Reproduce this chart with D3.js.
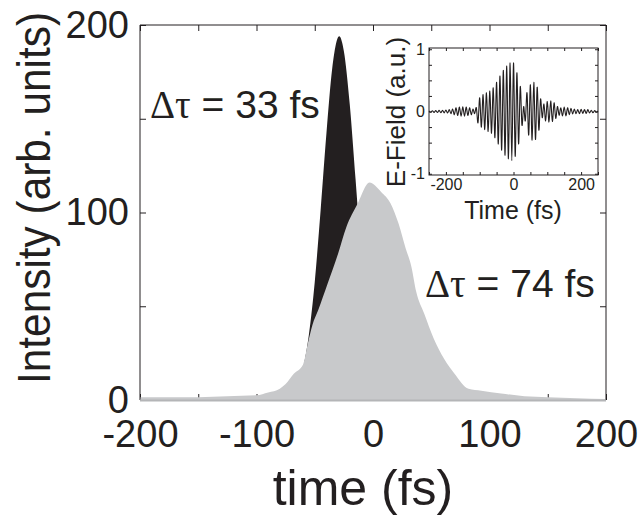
<!DOCTYPE html>
<html>
<head>
<meta charset="utf-8">
<script src="https://cdn.jsdelivr.net/npm/d3@7"></script>
<style>
  body { margin: 0; background: #fff; }
  svg { display: block; }
  text { font-family: "Liberation Sans", Arial, Helvetica, sans-serif; fill: #231f20; }
</style>
</head>
<body>
<div class="chart"></div>
<script>
// main plot: short (33 fs) and long (74 fs) pulse intensities
const blackTime = [-200, -90, -80, -70, -65, -60, -55, -50, -45, -40, -35, -29, -25, -20, -15, -10, -5, 0, 5, 10, 20, 200]
const blackVal  = [0, 0, 0.3, 2.7, 7, 17, 35, 63, 101, 142, 177, 194, 186, 158, 118, 77, 45, 23, 10, 4, 0.5, 0]

const greyTime = [-200, -175, -150, -125, -100, -90, -80, -75, -68, -60, -56, -52, -47, -39, -30, -23, -13, -3, 7, 15, 22, 28, 33, 37, 44, 52, 61, 70, 82, 93, 110, 130, 150, 175, 200]
const greyVal  = [1.5, 1.5, 1.5, 2, 2.5, 4, 6, 8.5, 14, 19, 30, 40, 48, 62, 78, 92, 105, 116, 111, 105, 94, 81, 71, 58, 46, 33, 22, 14, 6, 5, 3.5, 2, 1.5, 1, 0.5]

const xTicks = [-200, -150, -100, -50, 0, 50, 100, 150, 200]
const xLabels = [-200, -100, 0, 100, 200]
const yTicks = [0, 50, 100, 150, 200]
const yLabels = [0, 100, 200]

// inset: electric field, one value every 5 fs from -250 to 250
const eStep = 5
const eField = [
  0.01, -0.012, 0.012, -0.015, 0.015, -0.015, 0.018, -0.02, 0.02, -0.022,
  0.025, -0.025, 0.03, -0.035, 0.04, -0.05, 0.06, -0.065, 0.07, -0.075,
  0.075, -0.075, 0.07, -0.065, 0.06, -0.05, 0.04, -0.035, 0.06, -0.18,
  0.22, -0.25, 0.27, -0.29, 0.30, -0.32, 0.33, -0.35, 0.38, -0.42,
  0.47, -0.52, 0.57, -0.62, 0.66, -0.70, 0.73, -0.76, 0.78, -0.79,
  0.78, -0.72, 0.62, -0.52, 0.40, -0.22, 0.08, -0.15, 0.30, -0.38,
  0.43, -0.46, 0.47, -0.45, 0.39, -0.30, 0.20, -0.10, 0.12, -0.15,
  0.16, -0.17, 0.17, -0.16, 0.14, -0.11, 0.08, -0.06, 0.06, -0.07,
  0.07, -0.07, 0.06, -0.05, 0.05, -0.04, 0.04, -0.035, 0.03, -0.035,
  0.035, -0.03, 0.03, -0.03, 0.03, -0.025, 0.02, -0.02, 0.015, -0.012,
  0.01
]
const eXTicks = [-250, -200, -150, -100, -50, 0, 50, 100, 150, 200, 250]
const eXLabels = [-200, 0, 200]
const eYTicks = [-1, -0.75, -0.5, -0.25, 0, 0.25, 0.5, 0.75, 1]
const eYLabels = [-1, 0, 1]

const width = 641, height = 515
const m = {left: 140, right: 606, top: 25, bottom: 400}
const ink = "#231f20"

const svg = d3.select(".chart").append("svg")
  .attr("width", width)
  .attr("height", height)

const x = d3.scaleLinear().domain([-200, 200]).range([m.left, m.right])
const y = d3.scaleLinear().domain([0, 200]).range([m.bottom, m.top])

// ticks first, the areas cover them
const fmt = (labels) => (d) => labels.includes(d) ? d : ""

svg.append("g")
  .attr("transform", "translate(0," + m.bottom + ")")
  .call(d3.axisBottom(x).tickValues(xTicks).tickSizeInner(-6).tickSizeOuter(0).tickPadding(20).tickFormat(fmt(xLabels)))
svg.append("g")
  .attr("transform", "translate(0," + m.top + ")")
  .call(d3.axisTop(x).tickValues(xTicks).tickSizeInner(-6).tickSizeOuter(0).tickFormat(""))
svg.append("g")
  .attr("transform", "translate(" + m.left + ",0)")
  .call(d3.axisLeft(y).tickValues(yTicks).tickSizeInner(-6).tickSizeOuter(0).tickPadding(11).tickFormat(fmt(yLabels)))
svg.append("g")
  .attr("transform", "translate(" + m.right + ",0)")
  .call(d3.axisRight(y).tickValues(yTicks).tickSizeInner(-6).tickSizeOuter(0).tickFormat(""))

svg.selectAll(".domain").remove()
svg.selectAll(".tick line").attr("stroke", ink)
svg.selectAll(".tick text")
  .style("font-size", "38px")
  .style("font-family", "\"Liberation Sans\", Arial, sans-serif")
  .attr("fill", ink)

const area = (ts, vs) => d3.area()
  .x((d, i) => x(ts[i]))
  .y0(y(0))
  .y1((d) => y(d))
  .curve(d3.curveMonotoneX)(vs)

svg.append("path")
  .attr("d", area(blackTime, blackVal))
  .attr("fill", ink)

svg.append("path")
  .attr("d", area(greyTime, greyVal))
  .attr("fill", "#c8c9cb")

// frame
svg.append("path")
  .attr("d", `M${m.left},${m.bottom}V${m.top}H${m.right}V${m.bottom}`)
  .attr("fill", "none")
  .attr("stroke", ink)
svg.append("line")
  .attr("x1", m.left).attr("x2", m.right)
  .attr("y1", m.bottom + 0.5).attr("y2", m.bottom + 0.5)
  .attr("stroke", "#b4b5b7")
  .attr("stroke-width", 2)

svg.append("text")
  .attr("x", 363).attr("y", 505)
  .attr("text-anchor", "middle")
  .style("font-size", "50px")
  .text("time (fs)")

svg.append("text")
  .attr("transform", "translate(50,198) rotate(-90)")
  .attr("text-anchor", "middle")
  .attr("textLength", 372)
  .attr("lengthAdjust", "spacingAndGlyphs")
  .style("font-size", "46px")
  .text("Intensity (arb. units)")

const note = (tx, ty, txt) => {
  const t = svg.append("text").attr("x", tx).attr("y", ty).style("font-size", "39px")
  t.append("tspan").style("font-family", "\"Liberation Serif\", \"Times New Roman\", serif").text("Δτ")
  t.append("tspan").text(" = " + txt)
}
note(150, 118, "33 fs")
note(425, 297, "74 fs")

// inset
const ins = {left: 429, right: 598, top: 48, bottom: 175}
const ex = d3.scaleLinear().domain([-250, 250]).range([ins.left, ins.right])
const ey = d3.scaleLinear().domain([-1.02, 1.02]).range([ins.bottom, ins.top])
const g = svg.append("g")

g.append("g")
  .attr("transform", "translate(0," + ins.bottom + ")")
  .call(d3.axisBottom(ex).tickValues(eXTicks).tickSizeInner(-3).tickSizeOuter(0).tickPadding(4).tickFormat(fmt(eXLabels)))
g.append("g")
  .attr("transform", "translate(0," + ins.top + ")")
  .call(d3.axisTop(ex).tickValues(eXTicks).tickSizeInner(-3).tickSizeOuter(0).tickFormat(""))
g.append("g")
  .attr("transform", "translate(" + ins.left + ",0)")
  .call(d3.axisLeft(ey).tickValues(eYTicks).tickSizeInner(-3).tickSizeOuter(0).tickPadding(4).tickFormat(fmt(eYLabels)))
g.append("g")
  .attr("transform", "translate(" + ins.right + ",0)")
  .call(d3.axisRight(ey).tickValues(eYTicks).tickSizeInner(-3).tickSizeOuter(0).tickFormat(""))

g.selectAll(".domain").remove()
g.selectAll(".tick line").attr("stroke", ink)
g.selectAll(".tick text")
  .style("font-size", "16px")
  .style("font-family", "\"Liberation Sans\", Arial, sans-serif")
  .attr("fill", ink)

g.append("path")
  .datum(eField)
  .attr("d", d3.line()
    .x((d, i) => ex(-250 + i * eStep))
    .y((d) => ey(d))
    .curve(d3.curveCardinal))
  .attr("fill", "none")
  .attr("stroke", ink)
  .attr("stroke-width", 1.1)

g.append("rect")
  .attr("x", ins.left).attr("y", ins.top)
  .attr("width", ins.right - ins.left).attr("height", ins.bottom - ins.top)
  .attr("fill", "none")
  .attr("stroke", ink)

g.append("text")
  .attr("x", 513).attr("y", 219)
  .attr("text-anchor", "middle")
  .style("font-size", "25px")
  .text("Time (fs)")

g.append("text")
  .attr("transform", "translate(405,112) rotate(-90)")
  .attr("text-anchor", "middle")
  .style("font-size", "26px")
  .text("E-Field (a.u.)")
</script>
</body>
</html>
